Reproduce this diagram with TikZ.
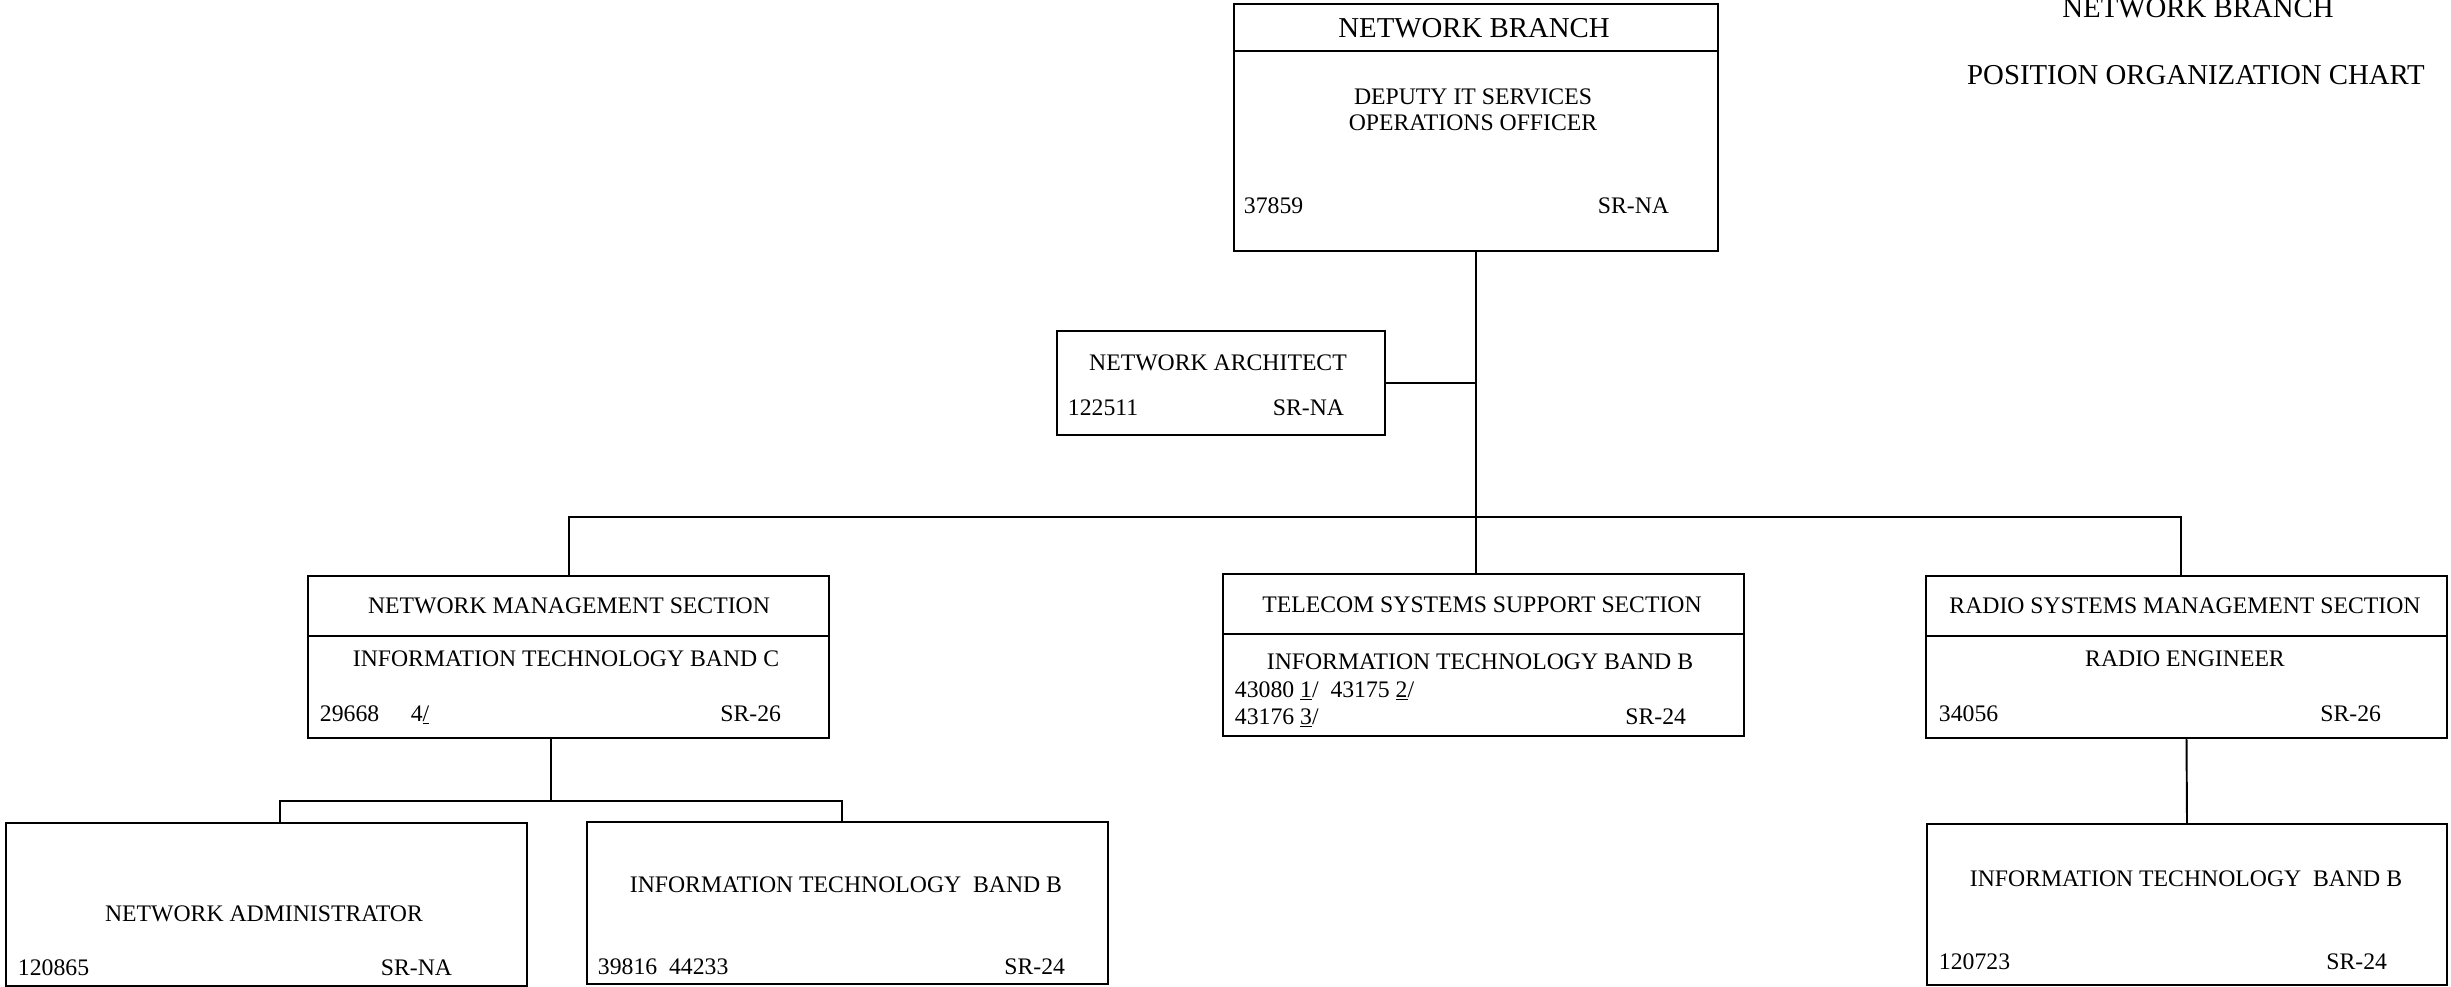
\documentclass[tikz,border=0pt]{standalone}
\usepackage{fontspec}
\setmainfont{Liberation Serif}
\usetikzlibrary{fit}
\tikzset{
  box/.style={draw, line width=1.1pt, inner sep=0pt},
  txt/.style={inner sep=0pt, font=\fontsize{13.5}{15}\selectfont},
  ttl/.style={inner sep=0pt, font=\fontsize{16.4}{19}\selectfont},
}
\begin{document}
\begin{tikzpicture}[x=0.02cm, y=-0.02cm, line width=1.1pt]
\useasboundingbox (0,0) rectangle (2451,987);
\node[ttl, anchor=base] (head1) at (2198,17) {NETWORK BRANCH};
\node[ttl, anchor=base] (head2) at (2196,84) {POSITION ORGANIZATION CHART};
\node[box, fit={(1234,4) (1718,251)}] (chief) {};
\draw (chief.west |- 0,51) -- (chief.east |- 0,51);
\node[ttl, anchor=base] (chiefttl) at (1474,37) {NETWORK BRANCH};
\node[txt, anchor=base] (chiefpos1) at (1473,104) {DEPUTY IT SERVICES};
\node[txt, anchor=base] (chiefpos2) at (1473,130) {OPERATIONS OFFICER};
\node[txt, anchor=base west] (chiefno) at (1243,213) {37859};
\node[txt, anchor=base east] (chiefsr) at (1670,213) {SR-NA};
\node[box, fit={(1057,331) (1385,435)}] (arch) {};
\node[txt, anchor=base] (archpos) at (1218,370) {NETWORK ARCHITECT};
\node[txt, anchor=base west] (archno) at (1067,415) {122511};
\node[txt, anchor=base east] (archsr) at (1345,415) {SR-NA};
\node[box, fit={(308,576) (829,738)}] (nms) {};
\draw (nms.west |- 0,636) -- (nms.east |- 0,636);
\node[txt, anchor=base] (nmsttl) at (569,613) {NETWORK MANAGEMENT SECTION};
\node[txt, anchor=base] (nmspos) at (566,666) {INFORMATION TECHNOLOGY BAND C};
\node[txt, anchor=base west] (nmsno) at (319,721) {29668\hspace{1.33em}4\underline{/}};
\node[txt, anchor=base east] (nmssr) at (782,721) {SR-26};
\node[box, fit={(1223,574) (1744,736)}] (tss) {};
\draw (tss.west |- 0,634) -- (tss.east |- 0,634);
\node[txt, anchor=base] (tssttl) at (1482,612) {TELECOM SYSTEMS SUPPORT SECTION};
\node[txt, anchor=base] (tsspos) at (1480,669) {INFORMATION TECHNOLOGY BAND B};
\node[txt, anchor=base west] (tssno1) at (1234,697) {43080 \underline{1}/\ \ 43175 \underline{2}/};
\node[txt, anchor=base west] (tssno2) at (1234,724) {43176 \underline{3}/};
\node[txt, anchor=base east] (tsssr) at (1687,724) {SR-24};
\node[box, fit={(1926,576) (2447,738)}] (rsm) {};
\draw (rsm.west |- 0,636) -- (rsm.east |- 0,636);
\node[txt, anchor=base] (rsmttl) at (2185,613) {RADIO SYSTEMS MANAGEMENT SECTION};
\node[txt, anchor=base] (rsmpos) at (2185,666) {RADIO ENGINEER};
\node[txt, anchor=base west] (rsmno) at (1938,721) {34056};
\node[txt, anchor=base east] (rsmsr) at (2382,721) {SR-26};
\node[box, fit={(6,823) (527,986)}] (admin) {};
\node[txt, anchor=base] (adminpos) at (264,921) {NETWORK ADMINISTRATOR};
\node[txt, anchor=base west] (adminno) at (17,975) {120865};
\node[txt, anchor=base east] (adminsr) at (453,975) {SR-NA};
\node[box, fit={(587,822) (1108,984)}] (itb) {};
\node[txt, anchor=base] (itbpos) at (846,892) {INFORMATION TECHNOLOGY\ \ BAND B};
\node[txt, anchor=base west] (itbno) at (597,974) {39816\ \ 44233};
\node[txt, anchor=base east] (itbsr) at (1066,974) {SR-24};
\node[box, fit={(1927,824) (2447,985)}] (rit) {};
\node[txt, anchor=base] (ritpos) at (2186,886) {INFORMATION TECHNOLOGY\ \ BAND B};
\node[txt, anchor=base west] (ritno) at (1938,969) {120723};
\node[txt, anchor=base east] (ritsr) at (2388,969) {SR-24};
\coordinate (busL) at (569,517);
\coordinate (busR) at (2181,517);
\coordinate (subL) at (280,801);
\coordinate (subR) at (842,801);
\coordinate (sub) at (551,801);
\draw (chief.south) -- (chief.south |- tss.north);
\draw (arch.east) -- (arch.east -| chief.south);
\draw (busL |- nms.north) -- (busL) -- (busR) -- (busR |- rsm.north);
\draw (sub |- nms.south) -- (sub);
\draw (subL |- admin.north) -- (subL) -- (subR) -- (subR |- itb.north);
\draw (rsm.south) -- (rit.north);
\end{tikzpicture}
\end{document}
